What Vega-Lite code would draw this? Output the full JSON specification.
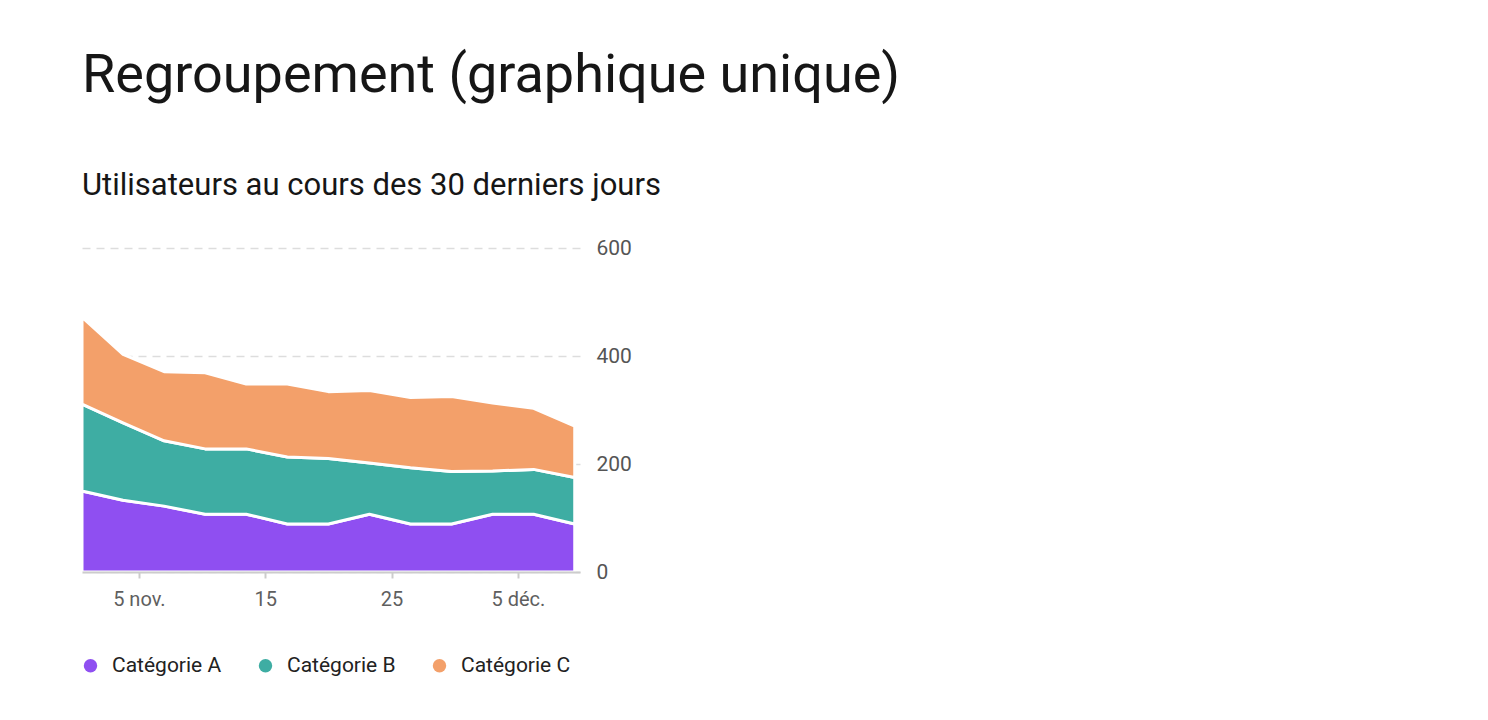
{
  "$schema": "https://vega.github.io/schema/vega-lite/v6.json",
  "width": 498,
  "height": 324,
  "padding": {"left": 80, "top": 49, "right": 10, "bottom": 10},
  "background": "white",
  "title": {
    "text": "Regroupement (graphique unique)",
    "subtitle": "Utilisateurs au cours des 30 derniers jours",
    "anchor": "start",
    "frame": "group",
    "font": "Roboto",
    "fontSize": 54,
    "fontWeight": "normal",
    "color": "#161616",
    "subtitleFont": "Roboto",
    "subtitleFontSize": 31,
    "subtitleColor": "#161616",
    "subtitlePadding": 68,
    "offset": 36
  },
  "config": {
    "view": {"stroke": null},
    "font": "Roboto"
  },
  "data": {
    "values": [
      {"date": "2023-10-31T12:00", "category": "Catégorie A", "users": 150},
      {"date": "2023-11-03T18:00", "category": "Catégorie A", "users": 133},
      {"date": "2023-11-07T00:00", "category": "Catégorie A", "users": 122},
      {"date": "2023-11-10T06:00", "category": "Catégorie A", "users": 107},
      {"date": "2023-11-13T12:00", "category": "Catégorie A", "users": 107},
      {"date": "2023-11-16T18:00", "category": "Catégorie A", "users": 89},
      {"date": "2023-11-20T00:00", "category": "Catégorie A", "users": 89},
      {"date": "2023-11-23T06:00", "category": "Catégorie A", "users": 107},
      {"date": "2023-11-26T12:00", "category": "Catégorie A", "users": 89},
      {"date": "2023-11-29T18:00", "category": "Catégorie A", "users": 89},
      {"date": "2023-12-03T00:00", "category": "Catégorie A", "users": 107},
      {"date": "2023-12-06T06:00", "category": "Catégorie A", "users": 107},
      {"date": "2023-12-09T12:00", "category": "Catégorie A", "users": 89},
      {"date": "2023-10-31T12:00", "category": "Catégorie B", "users": 161},
      {"date": "2023-11-03T18:00", "category": "Catégorie B", "users": 143},
      {"date": "2023-11-07T00:00", "category": "Catégorie B", "users": 121},
      {"date": "2023-11-10T06:00", "category": "Catégorie B", "users": 121},
      {"date": "2023-11-13T12:00", "category": "Catégorie B", "users": 121},
      {"date": "2023-11-16T18:00", "category": "Catégorie B", "users": 124},
      {"date": "2023-11-20T00:00", "category": "Catégorie B", "users": 121},
      {"date": "2023-11-23T06:00", "category": "Catégorie B", "users": 95},
      {"date": "2023-11-26T12:00", "category": "Catégorie B", "users": 104},
      {"date": "2023-11-29T18:00", "category": "Catégorie B", "users": 97},
      {"date": "2023-12-03T00:00", "category": "Catégorie B", "users": 80},
      {"date": "2023-12-06T06:00", "category": "Catégorie B", "users": 83},
      {"date": "2023-12-09T12:00", "category": "Catégorie B", "users": 86},
      {"date": "2023-10-31T12:00", "category": "Catégorie C", "users": 161},
      {"date": "2023-11-03T18:00", "category": "Catégorie C", "users": 127},
      {"date": "2023-11-07T00:00", "category": "Catégorie C", "users": 128},
      {"date": "2023-11-10T06:00", "category": "Catégorie C", "users": 141},
      {"date": "2023-11-13T12:00", "category": "Catégorie C", "users": 120},
      {"date": "2023-11-16T18:00", "category": "Catégorie C", "users": 135},
      {"date": "2023-11-20T00:00", "category": "Catégorie C", "users": 124},
      {"date": "2023-11-23T06:00", "category": "Catégorie C", "users": 134},
      {"date": "2023-11-26T12:00", "category": "Catégorie C", "users": 130},
      {"date": "2023-11-29T18:00", "category": "Catégorie C", "users": 139},
      {"date": "2023-12-03T00:00", "category": "Catégorie C", "users": 126},
      {"date": "2023-12-06T06:00", "category": "Catégorie C", "users": 113},
      {"date": "2023-12-09T12:00", "category": "Catégorie C", "users": 95}
    ]
  },
  "mark": {
    "type": "area",
    "stroke": "white",
    "strokeWidth": 3,
    "strokeJoin": "round",
    "opacity": 1
  },
  "encoding": {
    "x": {
      "field": "date",
      "type": "temporal",
      "scale": {
        "domain": [
          {"year": 2023, "month": 10, "date": 31, "hours": 12},
          {"year": 2023, "month": 12, "date": 9, "hours": 22}
        ]
      },
      "axis": {
        "title": null,
        "grid": false,
        "zindex": 1,
        "values": [
          {"year": 2023, "month": 11, "date": 5},
          {"year": 2023, "month": 11, "date": 15},
          {"year": 2023, "month": 11, "date": 25},
          {"year": 2023, "month": 12, "date": 5}
        ],
        "labelExpr": "date(datum.value) == 5 ? (month(datum.value) == 10 ? '5 nov.' : '5 déc.') : timeFormat(datum.value, '%d')",
        "domainColor": "#cccccc",
        "domainWidth": 2,
        "tickColor": "#cccccc",
        "tickWidth": 2,
        "tickSize": 6,
        "labelFontSize": 20,
        "labelColor": "#5f5f5f",
        "labelPadding": 11
      }
    },
    "y": {
      "field": "users",
      "type": "quantitative",
      "stack": "zero",
      "scale": {"domain": [0, 600]},
      "axis": {
        "title": null,
        "orient": "right",
        "values": [0, 200, 400, 600],
        "domain": false,
        "ticks": false,
        "gridDash": [8, 6],
        "gridColor": "#dddddd",
        "gridWidth": 1.5,
        "labelFontSize": 21,
        "labelColor": "#555555",
        "labelPadding": 16
      }
    },
    "color": {
      "field": "category",
      "type": "nominal",
      "scale": {
        "domain": ["Catégorie A", "Catégorie B", "Catégorie C"],
        "range": ["#8f4ff1", "#3eada3", "#f3a06a"]
      },
      "legend": {
        "title": null,
        "orient": "none",
        "legendX": -2,
        "legendY": 407,
        "direction": "horizontal",
        "symbolType": "circle",
        "symbolSize": 180,
        "symbolStrokeWidth": 0,
        "symbolOpacity": 1,
        "labelFontSize": 21,
        "labelColor": "#222222",
        "labelOffset": 11,
        "columnPadding": 33
      }
    },
    "order": {"field": "category", "sort": "ascending"}
  }
}
